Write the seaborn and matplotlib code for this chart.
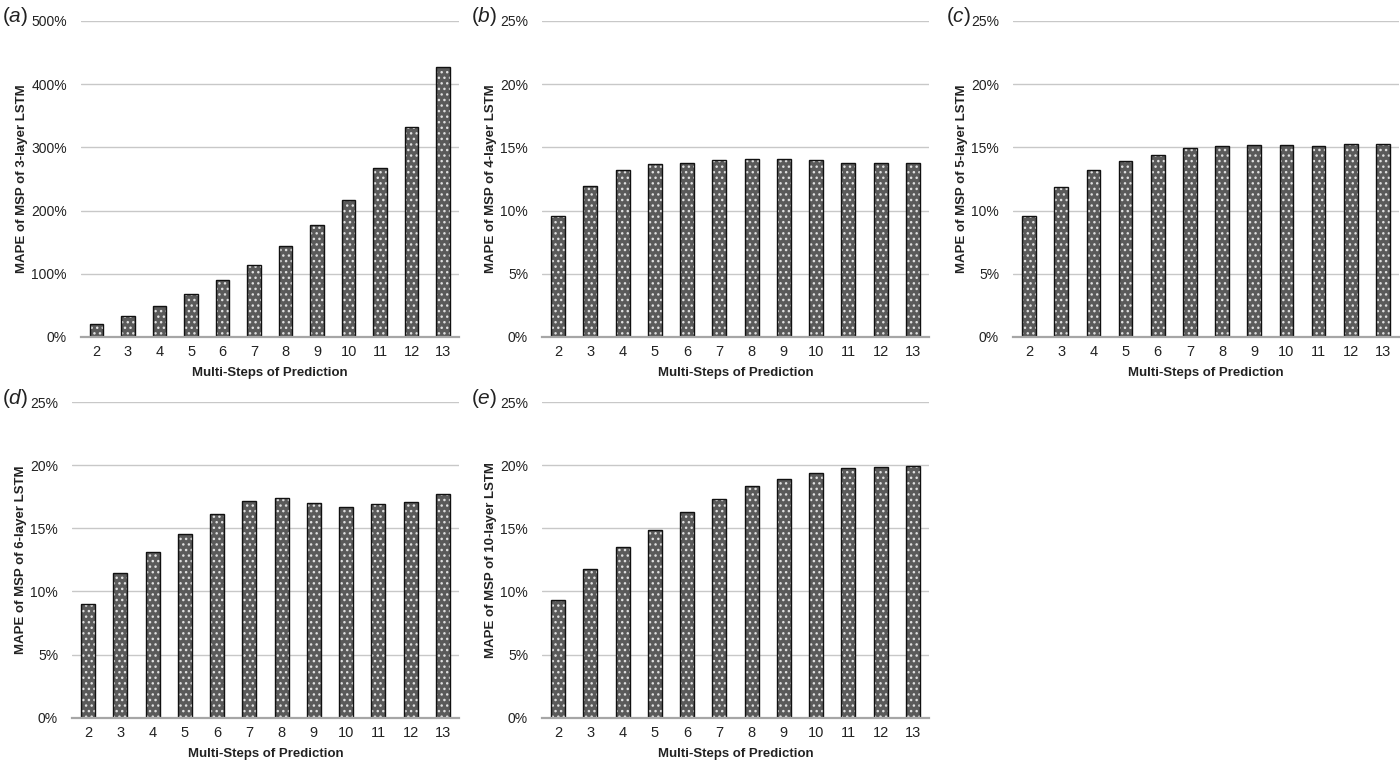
import matplotlib
matplotlib.use("Agg")
import matplotlib.pyplot as plt
import pandas as pd
import seaborn as sns
from matplotlib import ticker

steps = [2, 3, 4, 5, 6, 7, 8, 9, 10, 11, 12, 13]

mape_3_layer = [20.0, 32.7, 49.6, 67.6, 89.8, 114.6, 144.0, 177.4, 217.5, 267.0, 332.6, 426.6]
mape_4_layer = [9.58, 11.96, 13.25, 13.67, 13.78, 14.04, 14.10, 14.10, 13.97, 13.78, 13.73, 13.78]
mape_5_layer = [9.61, 11.90, 13.20, 13.94, 14.36, 14.92, 15.10, 15.20, 15.20, 15.15, 15.26, 15.30]
mape_6_layer = [9.03, 11.48, 13.12, 14.55, 16.16, 17.16, 17.42, 16.97, 16.68, 16.89, 17.10, 17.74]
mape_10_layer = [9.35, 11.77, 13.52, 14.89, 16.26, 17.32, 18.32, 18.90, 19.40, 19.75, 19.88, 19.93]

panel_letters = ["a", "b", "c", "d", "e"]
layer_names = ["3-layer", "4-layer", "5-layer", "6-layer", "10-layer"]
series = [mape_3_layer, mape_4_layer, mape_5_layer, mape_6_layer, mape_10_layer]
y_max = [500, 25, 25, 25, 25]
y_step = [100, 5, 5, 5, 5]

sns.set_theme(style="white")
plt.rcParams["font.family"] = ["Liberation Sans", "DejaVu Sans"]
plt.rcParams["mathtext.fontset"] = "custom"
plt.rcParams["mathtext.it"] = "Liberation Sans:italic"
plt.rcParams["hatch.linewidth"] = 1.0

fig = plt.figure(figsize=(14, 7.62), dpi=100)

# axes boxes in pixels: left, top, right, bottom
boxes = [
    (80.7, 21, 459, 337),
    (542, 21, 929, 337),
    (1013, 21, 1399, 337),
    (72, 402, 459, 717.7),
    (542, 402, 929, 717.7),
]
label_x = [2, 471, 946, 2, 471]
W, H = 1400, 762

for i, (l, t, r, b) in enumerate(boxes):
    ax = fig.add_axes([l / W, (H - b) / H, (r - l) / W, (b - t) / H])
    df = pd.DataFrame({"step": steps, "mape": series[i]})

    # dotted fill first, then the black outline on top
    sns.barplot(data=df, x="step", y="mape", ax=ax, color="#5a5a5a",
                width=0.43, hatch="...", edgecolor="#e0e0e0", linewidth=0,
                saturation=1, zorder=2)
    sns.barplot(data=df, x="step", y="mape", ax=ax, fill=False,
                width=0.43, edgecolor="#111111", linewidth=1.0,
                saturation=1, zorder=3)

    ax.set_ylim(0, y_max[i])
    ax.set_xlim(-0.5, len(steps) - 0.5)
    ax.yaxis.set_major_locator(ticker.MultipleLocator(y_step[i]))
    ax.yaxis.set_major_formatter(ticker.FuncFormatter(lambda v, _: f"{v:.0f}%"))
    ax.grid(axis="y", color="#c8c8c8", linewidth=1.0, zorder=0)
    ax.set_axisbelow(True)
    for side in ["left", "right", "top"]:
        ax.spines[side].set_visible(False)
    ax.spines["bottom"].set_color("#a6a6a6")
    ax.spines["bottom"].set_linewidth(1.6)
    ax.spines["bottom"].set_zorder(4)
    ax.tick_params(axis="x", length=0, labelsize=10.5, colors="#222222", pad=6)
    ax.tick_params(axis="y", length=0, labelsize=10, colors="#222222", pad=10)

    ax.set_xlabel("Multi-Steps of Prediction", fontsize=9.5, fontweight="bold",
                  color="#222222", labelpad=5.5)
    ax.set_ylabel(f"MAPE of MSP of {layer_names[i]} LSTM", fontsize=9.5,
                  fontweight="bold", color="#222222", labelpad=2)

    fig.text(label_x[i] / W, (H - (t - 4)) / H,
             "(" + r"$\it{" + panel_letters[i] + "}$" + ")",
             fontsize=15, color="#222222", ha="left", va="center")

fig.savefig("out.png", dpi=100)
